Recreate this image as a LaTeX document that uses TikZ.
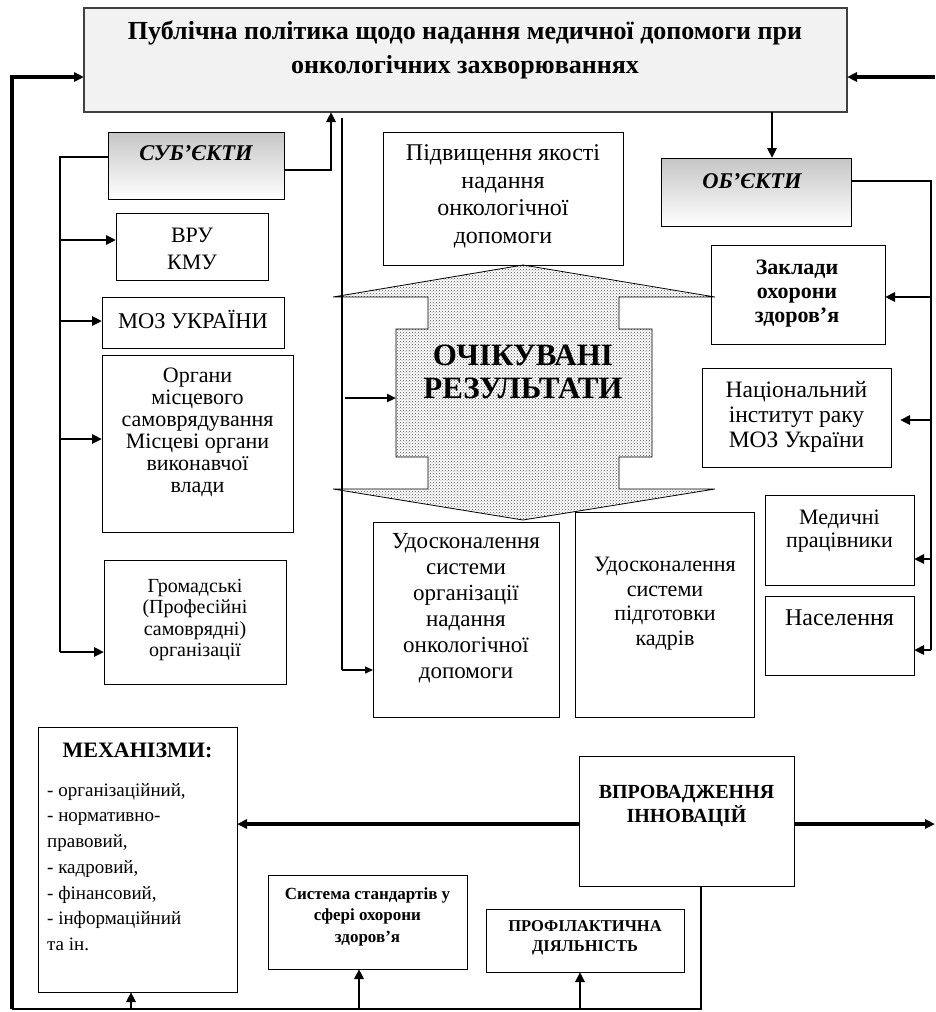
\documentclass[tikz,border=0pt]{standalone}
\usepackage{fontspec}
\setmainfont{Liberation Serif}
\usetikzlibrary{arrows.meta,patterns,calc}
\newcommand\fsz[2]{\fontsize{#1}{#2}\selectfont}
\begin{document}
\begin{tikzpicture}[x=1pt,y=-1pt,
  box/.style={draw=black, line width=1pt, fill=white, inner sep=0pt, outer sep=0pt},
  gbox/.style={draw=black, line width=1pt, top color=gray!45, bottom color=white, inner sep=0pt, outer sep=0pt},
  txt/.style={align=center, inner sep=0pt},
  arr/.style={-{Triangle[length=10pt,width=9pt]}},
  lwA/.style={line width=3.5pt},
  lwB/.style={line width=2.6pt},
  lwC/.style={line width=1.3pt},
  lwD/.style={line width=4.5pt}]
\useasboundingbox (0,0) rectangle (935,1012);

% ---------- boxes ----------
\node[box, fill=gray!10, draw=black!75, line width=1.3pt, minimum width=763pt, minimum height=104pt] (pub) at (465.5,60) {};
\node[gbox, minimum width=176pt, minimum height=67pt] (sub) at (196,165.5) {};
\node[box, minimum width=152pt, minimum height=67pt] (vru) at (192,246.5) {};
\node[box, minimum width=182pt, minimum height=51pt] (moz) at (193,322.5) {};
\node[box, minimum width=191pt, minimum height=177pt] (org) at (197.5,443.5) {};
\node[box, minimum width=182pt, minimum height=124pt] (grom) at (195,622) {};
\node[box, minimum width=240pt, minimum height=133pt] (pidv) at (503,198.5) {};
\node[gbox, minimum width=190pt, minimum height=68pt] (obj) at (756,192) {};
\node[box, minimum width=174pt, minimum height=99pt] (zakl) at (798,294.5) {};
\node[box, minimum width=189pt, minimum height=99pt] (nats) at (796.5,417.5) {};
\node[box, minimum width=149pt, minimum height=90pt] (med) at (839.5,540) {};
\node[box, minimum width=149pt, minimum height=79pt] (nas) at (839.5,635.5) {};
\node[box, minimum width=186pt, minimum height=195pt] (ud1) at (466,619.5) {};
\node[box, minimum width=179pt, minimum height=205pt] (ud2) at (664.5,614.5) {};
\node[box, minimum width=199pt, minimum height=265pt] (mech) at (137.5,859.5) {};
\node[box, minimum width=215pt, minimum height=130pt] (vpr) at (686.5,821) {};
\node[box, minimum width=199pt, minimum height=94pt] (syst) at (367.5,922) {};
\node[box, minimum width=198pt, minimum height=63pt] (prof) at (585,940.5) {};

% ---------- expected results shape ----------
\draw[line width=0.8pt, pattern=crosshatch dots, pattern color=black!70]
  (523,265) -- (715,297) -- (619,297) -- (619,329) -- (652,329) -- (652,457) -- (619,457) -- (619,489)
  -- (715,489) -- (523,520) -- (333,489) -- (428,489) -- (428,457) -- (396,457) -- (396,329)
  -- (428,329) -- (428,297) -- (333,297) -- cycle;
\coordinate (ocL) at (396,398);

% ---------- texts ----------
\node[txt, font=\fsz{26}{34}\bfseries] (pub-t) at (465,50) {Публічна політика щодо надання медичної допомоги при\\онкологічних захворюваннях};
\node[txt, font=\fsz{22.5}{26}\bfseries\itshape] (sub-t) at (196,153) {СУБ’ЄКТИ};
\node[txt, font=\fsz{22.5}{26}\bfseries\itshape] (obj-t) at (752,181) {ОБ’ЄКТИ};
\node[txt, font=\fsz{22}{27}] (vru-t) at (192,248.5) {ВРУ\\КМУ};
\node[txt, font=\fsz{22.5}{27}] (moz-t) at (193,319) {МОЗ УКРАЇНИ};
\node[txt, font=\fsz{22}{22}] (org-t) at (197.5,432) {Органи\\місцевого\\самоврядування\\Місцеві органи\\виконавчої\\влади};
\node[txt, font=\fsz{20}{21.5}] (grom-t) at (195,620) {Громадські\\(Професійні\\самоврядні)\\організації};
\node[txt, font=\fsz{24}{27.5}] (pidv-t) at (503,196.5) {Підвищення якості\\надання\\онкологічної\\допомоги};
\node[txt, font=\fsz{31}{33}\bfseries] (oc-t) at (523,371.5) {ОЧІКУВАНІ\\РЕЗУЛЬТАТИ};
\node[txt, font=\fsz{22}{24}\bfseries] (zakl-t) at (797,294) {Заклади\\охорони\\здоров’я};
\node[txt, font=\fsz{23.5}{25}] (nats-t) at (796.5,417) {Національний\\інститут раку\\МОЗ України};
\node[txt, font=\fsz{22}{23}] (med-t) at (839.5,531.5) {Медичні\\працівники};
\node[txt, font=\fsz{24}{25}] (nas-t) at (839.5,618) {Населення};
\node[txt, font=\fsz{23}{26}] (ud1-t) at (466,608) {Удосконалення\\системи\\організації\\надання\\онкологічної\\допомоги};
\node[txt, font=\fsz{22}{24.5}] (ud2-t) at (665,603.5) {Удосконалення\\системи\\підготовки\\кадрів};
\node[txt, font=\fsz{22}{25}\bfseries] (mech-h) at (137.5,750) {МЕХАНІЗМИ:};
\node[txt, align=left, anchor=west, font=\fsz{19}{25.7}] (mech-t) at (47,867) {- організаційний,\\- нормативно-\\правовий,\\- кадровий,\\- фінансовий,\\- інформаційний\\та ін.};
\node[txt, font=\fsz{20}{24}\bfseries] (vpr-t) at (686.5,806) {ВПРОВАДЖЕННЯ\\ІННОВАЦІЙ};
\node[txt, font=\fsz{17}{21.5}\bfseries] (syst-t) at (367.5,916.5) {Система стандартів у\\сфері охорони\\здоров'я};
\node[txt, font=\fsz{16.5}{20}\bfseries] (prof-t) at (585,938) {ПРОФІЛАКТИЧНА\\ДІЯЛЬНІСТЬ};

% ---------- free-end coordinates ----------
\coordinate (bl) at (12,1009);
\coordinate (rIn) at (935,77);
\coordinate (rOut) at (935,824);
\coordinate (thinTop) at (342,118);
\coordinate (thinBot) at (342,670);
\coordinate (ocS) at (345,398);
\coordinate (lv) at (60,652);
\coordinate (rv) at (931,650);

% ---------- connectors ----------
\draw[lwB] ([xshift=14.5pt]vpr.south) |- (bl);
\draw[lwA, arr] (bl) |- ([yshift=-17pt]pub.west);
\draw[lwA, arr] (rIn) -- (pub.east |- rIn);
\draw[lwB, arr] (bl -| 131,0) -- (mech.south -| 131,0);
\draw[lwB, arr] (bl -| 359,0) -- (syst.south -| 359,0);
\draw[lwB, arr] (bl -| 580,0) -- (prof.south -| 580,0);
\draw[lwD, arr] (vpr.west |- 0,824) -- (mech.east |- 0,824);
\draw[lwD, arr] (vpr.east |- rOut) -- (rOut);
\draw[lwB, arr] (sub.east |- 0,170) -| (pub.south -| 331,0);
\draw[lwB] (sub.west |- 0,157) -| (lv);
\draw[lwB, arr] (60,240) -- (vru.west |- 0,240);
\draw[lwB, arr] (60,321) -- (moz.west |- 0,321);
\draw[lwB, arr] (60,439) -- (org.west |- 0,439);
\draw[lwB, arr] (lv) -- (grom.west |- lv);
\draw[lwB, arr] (pub.south -| 772,0) -- (obj.north -| 772,0);
\draw[lwB] (obj.east |- 0,181) -| (rv);
\draw[lwB, arr] (931,297) -- (zakl.east |- 0,297);
\draw[lwB, arr, shorten >=9pt] (931,420) -- (nats.east |- 0,420);
\draw[lwB, arr] (931,559) -- (med.east |- 0,559);
\draw[lwB, arr] (rv) -- (nas.east |- rv);
\draw[lwC] (thinTop) -- (thinBot);
\draw[lwC, -{Triangle[length=8pt,width=7pt]}] (thinBot) -- (ud1.west |- thinBot);
\draw[line width=2.2pt, -{Triangle[length=9pt,width=8pt]}] (ocS) -- (ocL);
\end{tikzpicture}
\end{document}
